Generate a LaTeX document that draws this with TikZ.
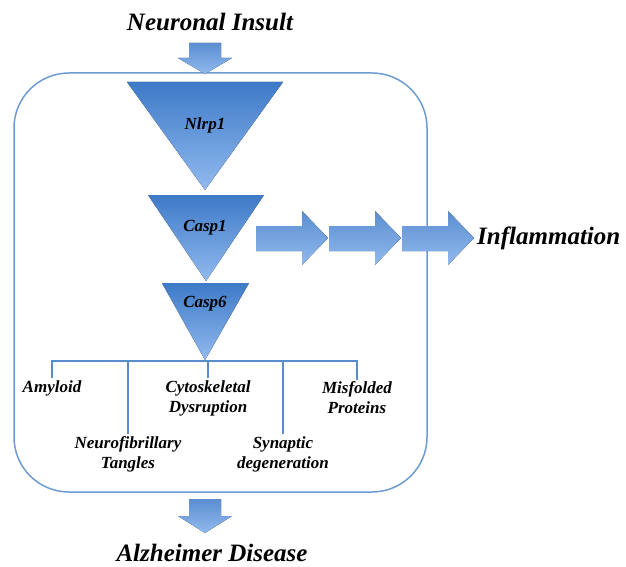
\documentclass[tikz,border=0pt]{standalone}
\usepackage{fontspec}
\setmainfont{Liberation Serif}
\usepackage{tikz}
\usetikzlibrary{positioning}

\definecolor{casdark}{RGB}{62,122,200}
\definecolor{caslight}{RGB}{145,186,238}
\definecolor{boxline}{RGB}{110,156,210}
\definecolor{treeline}{RGB}{88,140,204}

\tikzset{
  tri/.style={top color=casdark, bottom color=caslight, draw=none},
  blockarrow/.style={top color=casdark!85, bottom color=caslight, draw=none},
  lbl/.style={align=center, inner sep=2pt, font=\bfseries\itshape\fontsize{17}{20}\selectfont},
  biglbl/.style={align=center, inner sep=0pt, font=\bfseries\itshape\fontsize{25}{30}\selectfont},
  tree/.style={draw=treeline, line width=2.6pt}
}

\begin{document}
\begin{tikzpicture}[x=1pt, y=-1pt]
    \useasboundingbox (0,0) rectangle (626,567);

    % outer frame
    \draw [draw=boxline, line width=1.5pt, rounded corners=55pt] (14,73) rectangle (427,492);

    % input / output arrows
    \fill [blockarrow] (189,43) -- (221,43) -- (221,58) -- (232,58) -- (205,74) -- (178,58) -- (189,58) -- cycle;
    \fill [blockarrow] (189,499) -- (221,499) -- (221,516) -- (232,516) -- (205,533) -- (178,516) -- (189,516) -- cycle;

    % cascade
    \fill [tri] (127,82) -- (283,82) -- (205,190) -- cycle;
    \fill [tri] (148,195) -- (264,195) -- (206,281) -- cycle;
    \fill [tri] (162,283) -- (249,283) -- (205,360) -- cycle;
    \coordinate (split) at (205,361);

    \node [lbl] (nlrp1) at (205,125) {Nlrp1};
    \node [lbl] (casp1) at (205,228) {Casp1};
    \node [lbl] (casp6) at (205,304) {Casp6};

    % arrows to inflammation
    \fill [blockarrow] (256,226) -- (302,226) -- (302,211) -- (328,238) -- (302,265) -- (302,251) -- (256,251) -- cycle;
    \fill [blockarrow] (329,226) -- (375,226) -- (375,211) -- (401,238) -- (375,265) -- (375,251) -- (329,251) -- cycle;
    \fill [blockarrow] (402,226) -- (448,226) -- (448,211) -- (474,238) -- (448,265) -- (448,251) -- (402,251) -- cycle;

    \node [biglbl] (insult) at (210,22) {Neuronal Insult};
    \node [biglbl, anchor=west] (inflam) at (477,238) {Inflammation};
    \node [biglbl] (ad) at (212,553) {Alzheimer Disease};

    % downstream effects
    \node [lbl] (amyloid) at (52,388) {Amyloid};
    \node [lbl] (tangles) at (128,454) {Neurofibrillary\\Tangles};
    \node [lbl] (cyto) at (208,398) {Cytoskeletal\\Dysruption};
    \node [lbl] (synapse) at (283,454) {Synaptic\\degeneration};
    \node [lbl] (misfold) at (357,398) {Misfolded\\Proteins};

    \draw [tree, line cap=rect] (amyloid.north |- split) -- (misfold.north |- split);
    \foreach \n in {amyloid, tangles, cyto, synapse, misfold}
        \draw [tree] (\n.north |- split) -- (\n.north);

\end{tikzpicture}
\end{document}
